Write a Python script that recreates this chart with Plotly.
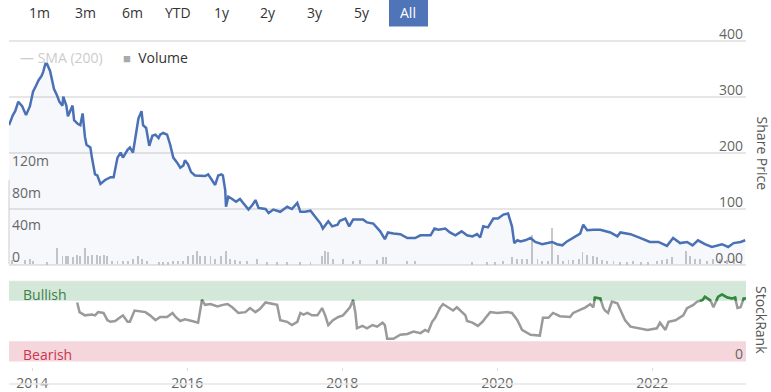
import plotly.graph_objects as go

# ---------------- data ----------------
price_year = [2013.70, 2013.75, 2013.78, 2013.82, 2013.87, 2013.92, 2013.97, 2014.01, 2014.05, 2014.08,
              2014.12, 2014.14, 2014.17, 2014.19, 2014.23, 2014.26, 2014.28, 2014.32, 2014.35, 2014.39,
              2014.40, 2014.44, 2014.46, 2014.52, 2014.54, 2014.59, 2014.62, 2014.65, 2014.68, 2014.70,
              2014.75, 2014.77, 2014.81, 2014.84, 2014.88, 2014.94, 2015.01, 2015.05, 2015.10, 2015.14,
              2015.17, 2015.23, 2015.26, 2015.30, 2015.33, 2015.37, 2015.41, 2015.43, 2015.47, 2015.51,
              2015.55, 2015.59, 2015.63, 2015.65, 2015.69, 2015.74, 2015.78, 2015.82, 2015.87, 2015.91,
              2015.95, 2015.97, 2016.01, 2016.05, 2016.10, 2016.17, 2016.23, 2016.27, 2016.32, 2016.36,
              2016.40, 2016.44, 2016.46, 2016.49, 2016.50, 2016.53, 2016.58, 2016.63, 2016.68, 2016.74,
              2016.79, 2016.84, 2016.88, 2016.92, 2017.01, 2017.05, 2017.11, 2017.20, 2017.29, 2017.35,
              2017.42, 2017.46, 2017.52, 2017.59, 2017.65, 2017.72, 2017.75, 2017.82, 2017.87, 2017.94,
              2017.97, 2018.04, 2018.09, 2018.14, 2018.27, 2018.32, 2018.40, 2018.49, 2018.55, 2018.59,
              2018.66, 2018.75, 2018.84, 2018.94, 2019.01, 2019.14, 2019.19, 2019.24, 2019.33, 2019.39,
              2019.46, 2019.54, 2019.61, 2019.68, 2019.74, 2019.78, 2019.82, 2019.88, 2019.95, 2020.01,
              2020.08, 2020.14, 2020.19, 2020.22, 2020.26, 2020.30, 2020.36, 2020.43, 2020.49, 2020.58,
              2020.65, 2020.71, 2020.77, 2020.84, 2020.90, 2020.98, 2021.07, 2021.11, 2021.16, 2021.24,
              2021.33, 2021.46, 2021.55, 2021.59, 2021.72, 2021.85, 2021.97, 2022.08, 2022.19, 2022.27,
              2022.36, 2022.45, 2022.52, 2022.59, 2022.68, 2022.77, 2022.84, 2022.90, 2022.98, 2023.05,
              2023.14, 2023.20]
share_price = [250, 268, 275, 292, 284, 268, 284, 310, 321, 330,
               338, 345, 360, 360, 347, 328, 315, 303, 292, 285,
               301, 285, 266, 285, 259, 252, 250, 271, 229, 215,
               210, 192, 162, 160, 145, 152, 157, 157, 192, 201,
               192, 206, 210, 201, 227, 262, 275, 250, 245, 213,
               231, 233, 227, 233, 236, 233, 215, 192, 183, 174,
               178, 187, 180, 166, 160, 159, 159, 162, 152, 143,
               160, 162, 160, 134, 104, 122, 118, 113, 118, 107,
               99, 107, 116, 102, 100, 93, 99, 95, 104, 100,
               111, 95, 95, 97, 86, 74, 65, 78, 69, 72,
               79, 83, 69, 81, 81, 76, 74, 60, 46, 58,
               56, 55, 48, 48, 53, 53, 65, 63, 65, 58,
               53, 60, 53, 51, 55, 49, 69, 67, 83, 83,
               90, 92, 69, 39, 44, 42, 44, 48, 41, 37,
               39, 41, 37, 35, 42, 49, 56, 72, 62, 63,
               63, 58, 51, 58, 55, 48, 41, 41, 34, 48,
               39, 41, 35, 44, 37, 32, 35, 37, 32, 39,
               41, 44]

rank_year = [2014.58, 2014.61, 2014.68, 2014.77, 2014.81, 2014.85, 2014.92, 2014.97, 2015.01, 2015.07,
             2015.14, 2015.17, 2015.23, 2015.26, 2015.32, 2015.37, 2015.46, 2015.52, 2015.59, 2015.65,
             2015.74, 2015.81, 2015.85, 2015.91, 2015.97, 2016.06, 2016.14, 2016.19, 2016.23, 2016.30,
             2016.39, 2016.46, 2016.52, 2016.58, 2016.66, 2016.75, 2016.81, 2016.88, 2016.94, 2017.01,
             2017.07, 2017.16, 2017.20, 2017.29, 2017.35, 2017.42, 2017.46, 2017.50, 2017.55, 2017.61,
             2017.68, 2017.74, 2017.78, 2017.82, 2017.88, 2017.95, 2018.01, 2018.06, 2018.10, 2018.14,
             2018.17, 2018.19, 2018.26, 2018.32, 2018.39, 2018.45, 2018.52, 2018.55, 2018.58, 2018.66,
             2018.75, 2018.84, 2018.92, 2019.01, 2019.07, 2019.11, 2019.16, 2019.20, 2019.26, 2019.30,
             2019.37, 2019.43, 2019.48, 2019.55, 2019.59, 2019.61, 2019.68, 2019.75, 2019.81, 2019.85,
             2019.91, 2020.00, 2020.13, 2020.19, 2020.26, 2020.32, 2020.39, 2020.43, 2020.55, 2020.59,
             2020.66, 2020.72, 2020.81, 2020.94, 2020.98, 2021.05, 2021.14, 2021.20, 2021.24, 2021.26,
             2021.33, 2021.37, 2021.39, 2021.43, 2021.48, 2021.55, 2021.59, 2021.65, 2021.72, 2021.81,
             2021.94, 2022.06, 2022.10, 2022.17, 2022.21, 2022.30, 2022.40, 2022.45, 2022.53, 2022.58,
             2022.65, 2022.68, 2022.75, 2022.79, 2022.85, 2022.90, 2022.97, 2023.03, 2023.07, 2023.10,
             2023.14, 2023.18, 2023.21]
stock_rank = [73, 61, 57, 58, 57, 61, 60, 51, 49, 50,
              55, 57, 49, 49, 63, 62, 61, 57, 51, 55,
              55, 60, 55, 50, 52, 50, 48, 76, 70, 71,
              68, 70, 71, 67, 60, 61, 66, 61, 65, 73,
              72, 70, 51, 49, 45, 49, 60, 58, 60, 57,
              57, 66, 57, 45, 51, 55, 57, 63, 67, 76,
              60, 41, 44, 41, 45, 43, 48, 45, 28, 28,
              33, 34, 37, 35, 39, 37, 49, 54, 66, 71,
              67, 63, 67, 60, 57, 50, 48, 44, 49, 54,
              61, 60, 61, 60, 51, 39, 35, 33, 32, 54,
              54, 60, 56, 55, 60, 63, 67, 71, 67, 79,
              78, 66, 63, 60, 74, 72, 63, 51, 43, 41,
              39, 41, 48, 39, 49, 51, 57, 66, 70, 74,
              76, 80, 76, 67, 80, 83, 79, 78, 79, 66,
              67, 78, 78]

vol_year = [2013.74, 2013.91, 2013.97, 2014.01, 2014.19, 2014.32, 2014.39, 2014.43, 2014.46, 2014.52,
            2014.58, 2014.62, 2014.68, 2014.72, 2014.77, 2014.84, 2014.88, 2014.92, 2014.97, 2015.03,
            2015.10, 2015.17, 2015.23, 2015.30, 2015.37, 2015.42, 2015.48, 2015.63, 2015.69, 2015.75,
            2015.82, 2015.88, 2015.95, 2016.01, 2016.08, 2016.13, 2016.17, 2016.23, 2016.30, 2016.36,
            2016.43, 2016.50, 2016.55, 2016.62, 2016.68, 2016.77, 2016.90, 2017.03, 2017.16, 2017.29,
            2017.46, 2017.59, 2017.74, 2017.78, 2017.82, 2017.88, 2018.01, 2018.14, 2018.23, 2018.45,
            2018.53, 2018.57, 2018.84, 2018.94, 2019.68, 2019.87, 2019.97, 2020.08, 2020.19, 2020.26,
            2020.32, 2020.39, 2020.45, 2020.52, 2020.58, 2020.65, 2020.71, 2020.79, 2020.85, 2020.92,
            2020.98, 2021.05, 2021.10, 2021.16, 2021.23, 2021.29, 2021.35, 2021.42, 2021.50, 2021.59,
            2021.68, 2021.75, 2021.85, 2021.94, 2022.06, 2022.13, 2022.19, 2022.26, 2022.43, 2022.49,
            2022.55, 2022.62, 2022.71, 2022.79, 2022.88, 2022.97, 2023.05, 2023.14]
volume_m = [5, 5, 7, 4, 2.5, 20, 10, 10, 10, 9,
            12, 10, 20, 10, 12, 12, 10, 12, 10, 4,
            4, 4, 4, 7, 10, 7, 4, 2.5, 2.5, 2.5,
            4, 4, 4, 10, 12, 16, 10, 10, 10, 7,
            10, 16, 7, 5, 4, 4, 6, 2.5, 2.5, 2.5,
            2.5, 2.5, 10, 16, 15, 6, 6, 4, 5, 5,
            9, 9, 4, 4, 2.5, 2.5, 2.5, 4, 9, 7,
            7, 7, 37, 7, 4, 4, 45, 12, 4, 5,
            5, 7, 15, 12, 10, 9, 5, 4, 4, 2.5,
            2.5, 4, 2.5, 2.5, 4, 5, 6, 9, 16, 10,
            6, 6, 4, 6, 7, 5, 7, 4]

range_buttons = ["1m", "3m", "6m", "YTD", "1y", "2y", "3y", "5y", "All"]
year_ticks = [2014, 2016, 2018, 2020, 2022]
price_ticks = [0, 100, 200, 300, 400]
price_ticktext = ["0.00", "100", "200", "300", "400"]
volume_ticks = [0, 40, 80, 120]
volume_ticktext = ["0", "40m", "80m", "120m"]
BULL_LEVEL = 75
BEAR_LEVEL = 25

# ---------------- helpers ----------------
W, H = 771, 392
FONT = "Open Sans"


def px(x):
    return x / W


def py(y):
    return 1 - y / H


def above_threshold(xs, ys, thr):
    ox, oy = [], []
    for i in range(len(xs)):
        if i > 0:
            y0, y1 = ys[i - 1], ys[i]
            if (y0 - thr) * (y1 - thr) < 0:
                t = (thr - y0) / (y1 - y0)
                ox.append(xs[i - 1] + t * (xs[i] - xs[i - 1]))
                oy.append(thr)
                if y1 < thr:
                    ox.append(None)
                    oy.append(None)
        if ys[i] >= thr:
            ox.append(xs[i])
            oy.append(ys[i])
    return ox, oy


green_x, green_y = above_threshold(rank_year, stock_rank, BULL_LEVEL)

X0, X1 = 9, 746
x_range = [2013.70, 2023.21]

# top panel: price 0 at y=269px, 400 at y=42px; volume 0 at 268px, 40m per 32.3px
TOP_PX, BOT_PX = 18, 277
price_scale = (269 - 42) / 400.0
price_range = [-(BOT_PX - 269) / price_scale, (269 - TOP_PX) / price_scale]
vol_scale = 32.3 / 40.0
vol_range = [-(BOT_PX - 268) / vol_scale, (268 - TOP_PX) / vol_scale]
# rank panel: 0 at 367px, 100 at 285px
rank_scale = (367 - 285) / 100.0
RANK_BOT = 373
rank_range = [-(RANK_BOT - 367) / rank_scale, 100]

fig = go.Figure()

fig.add_trace(go.Bar(x=vol_year, y=volume_m, xaxis="x", yaxis="y", width=0.012,
                     marker=dict(color="#c8c8c8", line=dict(width=0)), name="Volume",
                     showlegend=False, hoverinfo="skip"))
fig.add_trace(go.Scatter(x=price_year, y=share_price, xaxis="x", yaxis="y2", mode="lines",
                         line=dict(color="#4a70b5", width=2.5), fill="tozeroy",
                         fillcolor="rgba(74,112,181,0.05)", name="Share Price", showlegend=False))
fig.add_trace(go.Scatter(x=rank_year, y=stock_rank, xaxis="x2", yaxis="y3", mode="lines",
                         line=dict(color="#9a9a9a", width=2.5), name="StockRank", showlegend=False))
fig.add_trace(go.Scatter(x=green_x, y=green_y, xaxis="x2", yaxis="y3", mode="lines",
                         line=dict(color="#2e8b3a", width=2.5), connectgaps=False,
                         name="StockRank (Bullish)", showlegend=False))

tickfont = dict(family=FONT, size=14, color="#666666")

fig.update_layout(
    width=W, height=H, margin=dict(l=0, r=0, t=0, b=0),
    paper_bgcolor="white", plot_bgcolor="rgba(0,0,0,0)",
    font=dict(family=FONT, size=14, color="#333333"),
    showlegend=False, bargap=0,
    xaxis=dict(domain=[px(X0), px(X1)], range=x_range, anchor="y", showticklabels=False,
               showgrid=False, zeroline=False, showline=False, ticks=""),
    xaxis2=dict(domain=[px(X0), px(X1)], range=x_range, anchor="y3", tickvals=year_ticks,
                ticktext=[str(t) for t in year_ticks], tickfont=tickfont, ticks="outside",
                ticklen=3, tickcolor="#dcdcdc", showgrid=False, zeroline=False, showline=False),
    yaxis=dict(domain=[py(BOT_PX), py(TOP_PX)], range=vol_range, side="left",
               tickvals=volume_ticks, ticktext=volume_ticktext, ticklabelposition="inside",
               tickfont=tickfont, showgrid=False, zeroline=False, showline=False, ticks="",
               ticklabelshift=-7),
    yaxis2=dict(domain=[py(BOT_PX), py(TOP_PX)], range=price_range, side="right",
                overlaying="y", anchor="x", tickvals=price_ticks, ticktext=price_ticktext,
                ticklabelposition="inside", tickfont=tickfont, showgrid=True,
                gridcolor="#e6e6e6", gridwidth=1.5, zeroline=False, showline=False, ticks="",
                ticklabelshift=-7),
    yaxis3=dict(domain=[py(RANK_BOT), py(285)], range=rank_range, side="right", anchor="x2",
                tickvals=[0, 100], ticktext=["0", ""], ticklabelposition="inside",
                tickfont=tickfont, showgrid=False, zeroline=False,
                showline=False, ticks="", ticklabelshift=-7),
)

shapes = [
    dict(type="rect", xref="x2 domain", yref="y3", x0=0, x1=1, y0=BULL_LEVEL, y1=100,
         fillcolor="#d4e8da", line=dict(width=0), layer="below"),
    dict(type="rect", xref="x2 domain", yref="y3", x0=0, x1=1, y0=0, y1=BEAR_LEVEL,
         fillcolor="#f5d6dc", line=dict(width=0), layer="below"),
    dict(type="line", xref="x2 domain", yref="y3", x0=0, x1=1, y0=100, y1=100,
         line=dict(color="#e6e6e6", width=1.5), layer="below"),
    dict(type="line", xref="paper", yref="paper", x0=px(X0), x1=px(X0), y0=py(268), y1=py(183),
         line=dict(color="#cccccc", width=1)),
    dict(type="line", xref="paper", yref="paper", x0=px(X0), x1=px(X1), y0=py(390), y1=py(390),
         line=dict(color="#e6e6e6", width=1.5)),
    dict(type="rect", xref="paper", yref="paper", x0=px(389), x1=px(428), y0=py(27), y1=py(0),
         fillcolor="#4f74b8", line=dict(width=0)),
]

button_centers = [39, 85, 132, 178, 222, 268, 315, 362, 408]
annotations = []
for label, cx in zip(range_buttons, button_centers):
    annotations.append(dict(text=label, x=px(cx), y=py(13), xref="paper", yref="paper",
                            showarrow=False, xanchor="center", yanchor="middle",
                            font=dict(family=FONT, size=14,
                                      color="white" if label == "All" else "#333333")))

annotations += [
    dict(text="— SMA (200)", x=px(18), y=py(58), xref="paper", yref="paper", showarrow=False,
         xanchor="left", yanchor="middle", font=dict(family=FONT, size=14, color="#cccccc")),
    dict(text="<span style='font-size:13px;color:#aaaaaa'>■</span>  Volume", x=px(121), y=py(58),
         xref="paper", yref="paper", showarrow=False, xanchor="left", yanchor="middle",
         font=dict(family=FONT, size=14, color="#333333")),
    dict(text="Bullish", x=px(21), y=py(299), xref="paper", yref="paper", showarrow=False,
         xanchor="left", yanchor="middle", font=dict(family=FONT, size=14, color="#3b8048")),
    dict(text="Bearish", x=px(21), y=py(360), xref="paper", yref="paper", showarrow=False,
         xanchor="left", yanchor="middle", font=dict(family=FONT, size=14, color="#c8374f")),
    dict(text="Share Price", x=px(762), y=py(156), xref="paper", yref="paper", showarrow=False,
         textangle=90, xanchor="center", yanchor="middle",
         font=dict(family=FONT, size=14, color="#555555")),
    dict(text="StockRank", x=px(762), y=py(325), xref="paper", yref="paper", showarrow=False,
         textangle=90, xanchor="center", yanchor="middle",
         font=dict(family=FONT, size=14, color="#555555")),
]

fig.update_layout(shapes=shapes, annotations=annotations)
fig.write_html("out.html", config={"displayModeBar": False},
               post_script="document.body.style.margin='0';")
